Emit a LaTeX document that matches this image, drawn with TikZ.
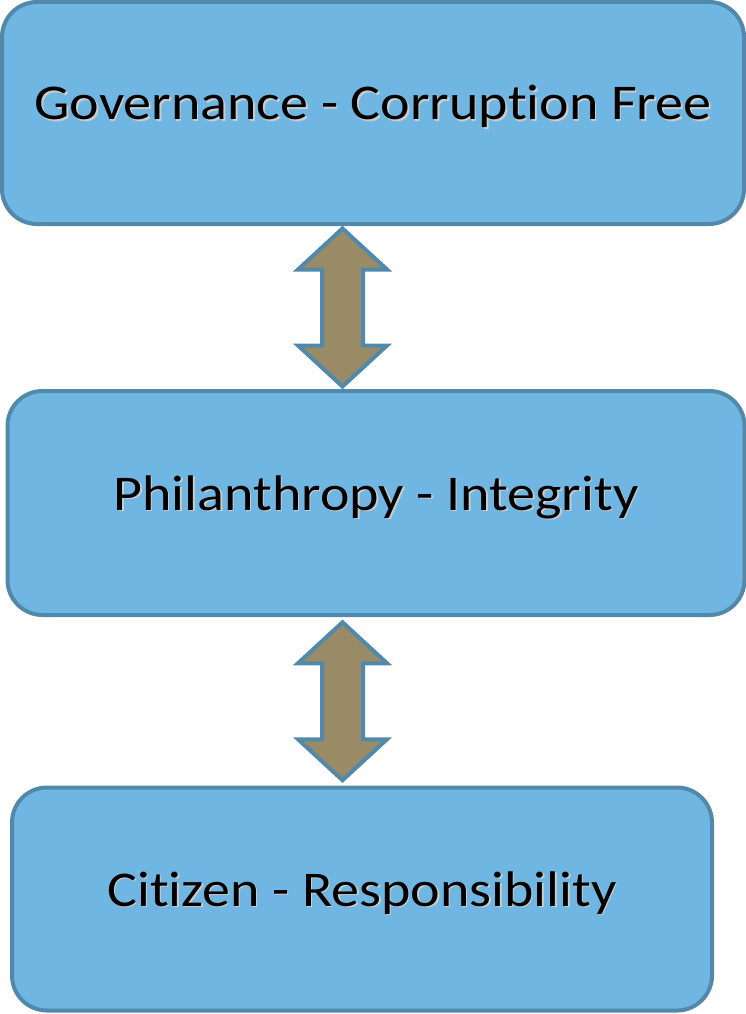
\documentclass[tikz,border=0pt]{standalone}
\usepackage{fontspec}
\setmainfont{Carlito}[FakeStretch=1.12,RawFeature=-liga]
\definecolor{boxfill}{RGB}{112,182,227}
\definecolor{boxline}{RGB}{82,137,171}
\definecolor{arrowfill}{RGB}{153,139,102}
\newcommand\shadowed[1]{\rlap{\kern1.5pt\raisebox{-1.5pt}{\textcolor{black!20}{#1}}}#1}
\tikzset{
  stage/.style={draw=boxline,fill=boxfill,line width=4pt,rounded corners=35pt,
    inner sep=0pt,text height=24pt,text depth=10pt,
    font=\fontsize{50}{60}\selectfont},
  updown/.style={draw=boxline,fill=arrowfill,line width=4pt,line join=miter}
}
% double arrow round a centre point
\newcommand\linkarrow[1]{%
  \draw[updown] ([yshift=79pt]#1) -- ++(44.5,-41) -- ++(-24,0) -- ++(0,-76)
    -- ++(24,0) -- ++(-44.5,-41) -- ++(-44.5,41) -- ++(24,0) -- ++(0,76)
    -- ++(-24,0) -- cycle;}
\begin{document}
\begin{tikzpicture}[x=1pt,y=1pt]
\useasboundingbox (0,0) rectangle (746,-1014);
%
\node[stage,minimum width=742pt,minimum height=222pt] (gov) at (373,-113)
  {\shadowed{Governance - Corruption Free}};
\node[stage,minimum width=737pt,minimum height=224pt] (phil) at (376,-503)
  {\shadowed{Philanthropy - Integrity}};
\node[stage,minimum width=700pt,minimum height=223pt] (cit) at (362,-899)
  {\shadowed{Citizen - Responsibility}};
%
\coordinate (axis) at (342.5,0);
\path (gov.south) -- (phil.north) coordinate[midway] (m1);
\path (phil.south) -- (cit.north) coordinate[midway] (m2);
\coordinate (link1) at (axis |- m1);
\coordinate (link2) at (axis |- m2);
\linkarrow{link1}
\linkarrow{link2}
\end{tikzpicture}
\end{document}
